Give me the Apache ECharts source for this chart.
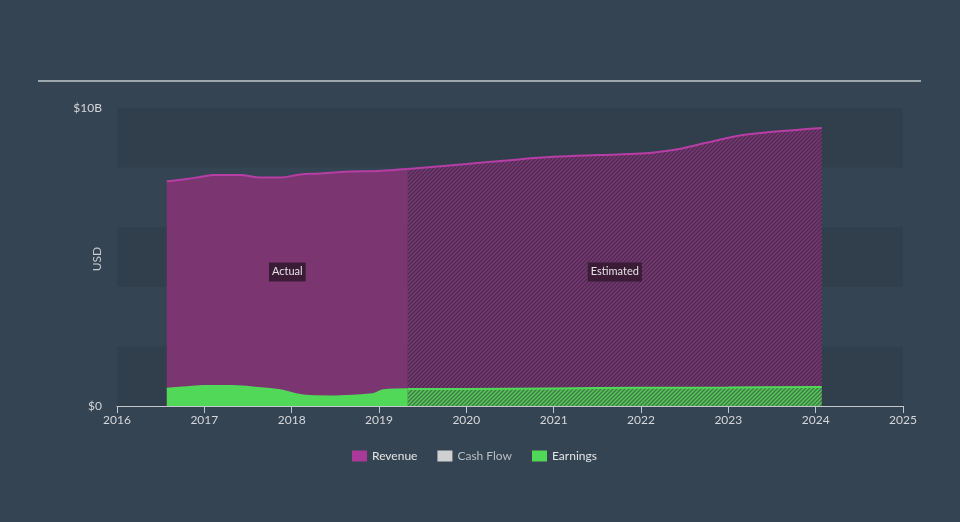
<!DOCTYPE html>
<html>
<head>
<meta charset="utf-8">
<script src="https://cdn.jsdelivr.net/npm/echarts@6/dist/echarts.min.js"></script>
<style>
html,body{margin:0;padding:0;background:#354452;}
#chart{width:960px;height:522px;}
</style>
</head>
<body>
<div id="chart"></div>
<script>
// ---- data (values in billions USD, x = fractional year) ----
var revenueActualYears = [2016.57, 2016.8, 2017.0, 2017.1, 2017.41, 2017.64, 2017.87, 2018.1, 2018.32, 2018.6, 2019.0, 2019.33];
var revenueActualValues = [7.54, 7.62, 7.71, 7.75, 7.75, 7.67, 7.67, 7.77, 7.8, 7.86, 7.89, 7.95];
var revenueEstYears = [2019.33, 2020.0, 2020.5, 2021.0, 2021.5, 2022.0, 2022.37, 2022.76, 2023.13, 2023.51, 2024.07];
var revenueEstValues = [7.95, 8.12, 8.25, 8.36, 8.42, 8.47, 8.59, 8.84, 9.08, 9.2, 9.33];
var earningsActualYears = [2016.57, 2016.8, 2017.0, 2017.3, 2017.5, 2017.75, 2017.9, 2018.05, 2018.2, 2018.5, 2018.8, 2018.95, 2019.05, 2019.33];
var earningsActualValues = [0.59, 0.64, 0.68, 0.68, 0.65, 0.58, 0.52, 0.40, 0.34, 0.33, 0.37, 0.42, 0.54, 0.57];
var earningsEstYears = [2019.33, 2020.0, 2021.0, 2022.0, 2023.0, 2024.07];
var earningsEstValues = [0.57, 0.57, 0.59, 0.61, 0.62, 0.64];
var legendNames = ['Revenue', 'Cash Flow', 'Earnings'];
var regionLabels = ['Actual', 'Estimated'];
var yAxisTitle = 'USD';

function pairs(xs, ys) { return xs.map(function (x, i) { return [x, ys[i]]; }); }

function hatch(bg, fg) {
  var c = document.createElement('canvas');
  c.width = 4; c.height = 4;
  var g = c.getContext('2d');
  g.fillStyle = bg; g.fillRect(0, 0, 4, 4);
  g.strokeStyle = fg; g.lineWidth = 1.4;
  g.beginPath();
  g.moveTo(0, 4); g.lineTo(4, 0);
  g.moveTo(-1, 1); g.lineTo(1, -1);
  g.moveTo(3, 5); g.lineTo(5, 3);
  g.stroke();
  return { image: c, repeat: 'repeat' };
}

var REV_FILL = '#7b3672', REV_LINE = '#b63ea5', EARN = '#52d858';
var FONT = 'Lato, "DejaVu Sans", sans-serif';

var chart = echarts.init(document.getElementById('chart'), null, { renderer: 'canvas' });
var actualMid = (revenueActualYears[0] + revenueActualYears[revenueActualYears.length - 1]) / 2;
var estMid = (revenueEstYears[0] + revenueEstYears[revenueEstYears.length - 1]) / 2;

chart.setOption({
  backgroundColor: '#354452',
  animation: false,
  textStyle: { fontFamily: FONT },
  grid: { left: 117, right: 57, top: 108, bottom: 116, containLabel: false },
  graphic: [{
    type: 'line', shape: { x1: 38, y1: 81, x2: 921, y2: 81 },
    style: { stroke: '#c3c8ce', lineWidth: 1.5 }
  }, {
    type: 'text', x: 97, y: 259, rotation: Math.PI / 2,
    style: { text: yAxisTitle, fill: '#c9ccd0', font: '12px ' + FONT, align: 'center', verticalAlign: 'middle' }
  }],
  legend: {
    data: legendNames.map(function (n) {
      return { name: n, textStyle: { color: n === 'Cash Flow' ? '#b9bec4' : '#e3e5e8' } };
    }),
    top: 445, left: 347,
    icon: 'rect', itemWidth: 15, itemHeight: 11, itemGap: 20,
    textStyle: { fontSize: 12, fontFamily: FONT },
    selectedMode: false
  },
  xAxis: {
    type: 'value', min: 2016, max: 2025, interval: 1,
    axisLine: { show: true, lineStyle: { color: '#c3c8ce', width: 1 } },
    axisTick: { show: true, length: 7, lineStyle: { color: '#c3c8ce' } },
    axisLabel: { color: '#d4d7db', fontSize: 12, margin: 8, formatter: function (v) { return String(v); } },
    splitLine: { show: false }
  },
  yAxis: {
    type: 'value', min: 0, max: 10, interval: 2,
    axisLine: { show: false }, axisTick: { show: false },
    axisLabel: {
      color: '#d4d7db', fontSize: 12, margin: 15,
      formatter: function (v) { return v === 0 ? '$0' : (v === 10 ? '$10B' : ''); }
    },
    splitLine: { show: false },
    splitArea: { show: true, areaStyle: { color: ['#313f4d', 'rgba(0,0,0,0)'] } }
  },
  series: [
    {
      name: 'Revenue', type: 'line', smooth: 0.35, symbol: 'none',
      data: pairs(revenueActualYears, revenueActualValues),
      lineStyle: { color: REV_LINE, width: 2 },
      itemStyle: { color: '#a93a9a' },
      areaStyle: { color: REV_FILL, opacity: 1 },
      markPoint: {
        symbol: 'rect', symbolSize: 0,
        label: {
          show: true, position: 'inside', formatter: regionLabels[0],
          color: '#e3e3e3', fontSize: 11, backgroundColor: '#3b1c37', padding: [4, 3]
        },
        data: [{ coord: [actualMid, 4.5] }]
      },
      z: 2
    },
    {
      name: 'Revenue', type: 'line', smooth: 0.35, symbol: 'none',
      data: pairs(revenueEstYears, revenueEstValues),
      lineStyle: { color: REV_LINE, width: 2 },
      itemStyle: { color: '#a93a9a' },
      areaStyle: { color: hatch('#4b2d50', '#7e3776'), opacity: 1 },
      markPoint: {
        symbol: 'rect', symbolSize: 0,
        label: {
          show: true, position: 'inside', formatter: regionLabels[1],
          color: '#e3e3e3', fontSize: 11, backgroundColor: '#3b1c37', padding: [4, 3]
        },
        data: [{ coord: [estMid, 4.5] }]
      },
      z: 2
    },
    {
      name: 'Cash Flow', type: 'line', symbol: 'none', data: [],
      itemStyle: { color: '#d0d0d0' }
    },
    {
      name: 'Earnings', type: 'line', smooth: 0.35, symbol: 'none',
      data: pairs(earningsActualYears, earningsActualValues),
      lineStyle: { color: EARN, width: 1.5 },
      itemStyle: { color: EARN },
      areaStyle: { color: EARN, opacity: 1 },
      z: 3
    },
    {
      name: 'Earnings', type: 'line', smooth: 0.35, symbol: 'none',
      data: pairs(earningsEstYears, earningsEstValues),
      lineStyle: { color: EARN, width: 2 },
      itemStyle: { color: EARN },
      areaStyle: { color: hatch('#3f7b45', '#57c95b'), opacity: 1 },
      z: 3
    }
  ]
});
</script>
</body>
</html>
